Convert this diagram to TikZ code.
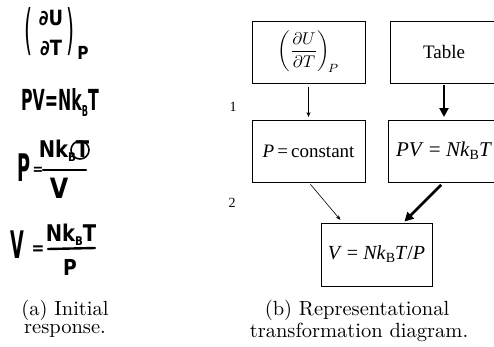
\documentclass[tikz,border=0pt]{standalone}
\usepackage{fontspec}
\newfontfamily\tms{Liberation Serif}
\newfontfamily\hand{DejaVu Sans}
\usetikzlibrary{arrows.meta,calc}
\newcommand{\capt}[1]{\scalebox{2.05}{\fontsize{10}{12}\selectfont #1}}
\begin{document}
\begin{tikzpicture}[x=1pt,y=-1pt,
  box/.style={draw,line width=0.9pt,inner sep=0pt,outer sep=0pt,minimum height=62pt},
  boxtxt/.style={font=\tms\fontsize{19}{22}\selectfont},
  thinarrow/.style={line width=0.6pt,-{Stealth[length=5pt,width=4pt]}},
  thickarrow/.style={line width=2.6pt,-{Triangle[length=9pt,width=9pt]}},
  hw/.style={font=\hand\bfseries\fontsize{22}{22}\selectfont,inner sep=0pt,xscale=0.85},
  hwline/.style={line width=2.4pt,line cap=round},
  captext/.style={inner sep=0pt},
  lab/.style={font=\tms\fontsize{14}{16}\selectfont,inner sep=0pt}]
\useasboundingbox (0,0) rectangle (494,346);

% ---------- (a) handwritten ----------
\node[hw,font=\hand\fontsize{54}{54}\selectfont,xscale=0.45] (p1l) at (29,32) {(};
\node[hw,font=\hand\bfseries\fontsize{21}{21}\selectfont,text height=15pt,text depth=0pt] (p1n) at (51,18) {∂U};
\node[hw,font=\hand\bfseries\fontsize{21}{21}\selectfont,text height=15pt,text depth=0pt] (p1d) at (51,48) {∂T};
\node[hw,font=\hand\fontsize{54}{54}\selectfont,xscale=0.45] (p1r) at (71,32) {)};
\node[hw,font=\hand\bfseries\fontsize{18}{18}\selectfont] (p1s) at (83,53) {P};

\node[hw,font=\hand\bfseries\fontsize{29}{29}\selectfont,xscale=0.64] (h2) at (60,102)
  {PV=Nk{\fontsize{15}{15}\selectfont\raisebox{-6pt}{B}}T};

\node[hw,font=\hand\bfseries\fontsize{38}{38}\selectfont,xscale=0.55] (h3p) at (24,168) {P};
\node[hw,font=\hand\bfseries\fontsize{15}{15}\selectfont] (h3e) at (38,171) {=};
\node[hw,font=\hand\bfseries\fontsize{23}{23}\selectfont] (h3n) at (64,151) {Nk{\fontsize{12}{12}\selectfont\raisebox{-4pt}{B}}T};
\draw[hwline] (43,170) -- (86,170);
\draw[line width=1.6pt] (80,150) circle (9);
\node[hw,font=\hand\bfseries\fontsize{28}{28}\selectfont] (h3d) at (59,188) {V};

\node[hw,font=\hand\bfseries\fontsize{38}{38}\selectfont,xscale=0.55] (h4v) at (17,245) {V};
\node[hw,font=\hand\bfseries\fontsize{18}{18}\selectfont] (h4e) at (38,250) {=};
\node[hw,font=\hand\bfseries\fontsize{23}{23}\selectfont] (h4n) at (71,235) {Nk{\fontsize{12}{12}\selectfont\raisebox{-4pt}{B}}T};
\draw[hwline] (48,249) -- (95,248);
\node[hw,font=\hand\bfseries\fontsize{22}{22}\selectfont] (h4d) at (70,267) {P};

\node[captext] (capa1) at (65,310) {\capt{(a) Initial}};
\node[captext] (capa2) at (65,331) {\capt{response.}};

% ---------- (b) diagram ----------
\node[box,minimum width=113pt] (du) at (308.5,52)
  {\scalebox{1.7}{$\displaystyle\left(\frac{\partial U}{\partial T}\right)_{\!P}$}};
\node[box,boxtxt,minimum width=108pt] (tab) at (444,52) {Table};
\node[box,boxtxt,minimum width=113pt] (pc) at (308.5,151) {\textit{P}\,=\,constant};
\node[box,boxtxt,font=\tms\fontsize{21}{24}\selectfont,minimum width=112pt] (pv) at (444,151)
  {\textit{PV}~=~\textit{Nk}{\fontsize{14}{14}\selectfont\raisebox{-3pt}{B}}\textit{T}};
\node[box,boxtxt,font=\tms\fontsize{20}{23}\selectfont,minimum width=111pt,minimum height=63pt] (v) at (376.5,254.5)
  {\textit{V}~=~\textit{Nk}{\fontsize{14}{14}\selectfont\raisebox{-3pt}{B}}\textit{T}/\textit{P}};

\node[lab] (l1) at (233,107) {1};
\node[lab] (l2) at (232,203) {2};

\draw[thinarrow,shorten <=4pt,shorten >=3pt] (du) -- (pc);
\draw[thickarrow,shorten <=2pt,shorten >=3pt] (tab) -- (pv);
\draw[thinarrow,shorten <=3pt,shorten >=4pt] (pc.south) -- ([xshift=22pt]v.north west);
\draw[thickarrow,shorten <=4pt,shorten >=2pt] (pv.south) -- ([xshift=-29pt]v.north east);

\node[captext] (capb1) at (357,310) {\capt{(b) Representational}};
\node[captext] (capb2) at (359,332) {\capt{transformation diagram.}};
\end{tikzpicture}
\end{document}
